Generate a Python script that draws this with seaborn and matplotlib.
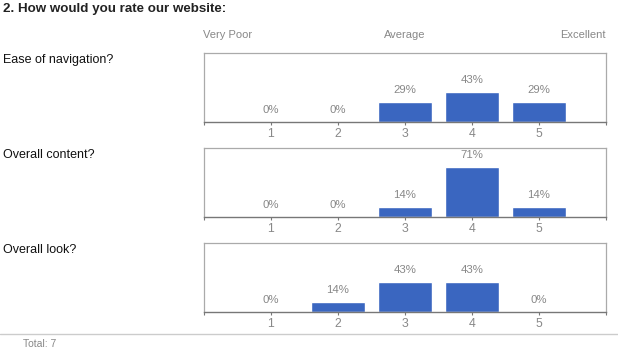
import matplotlib
matplotlib.use("Agg")
import matplotlib.pyplot as plt
import seaborn as sns
import pandas as pd

sns.set_theme(style="white")
plt.rcParams['font.family'] = ['Liberation Sans', 'DejaVu Sans']

title = "2. How would you rate our website:"
questions = ["Ease of navigation?", "Overall content?", "Overall look?"]
ratings = ["1", "2", "3", "4", "5"]
ease_values = [0, 0, 29, 43, 29]
content_values = [0, 0, 14, 71, 14]
look_values = [0, 14, 43, 43, 0]
scale_labels = ["Very Poor", "Average", "Excellent"]
total_text = "Total: 7"

series = [ease_values, content_values, look_values]

W, H = 618, 361
fig = plt.figure(figsize=(W / 100, H / 100), dpi=100)

bar_color = "#3a66c0"
gray_txt = "#888888"

panel_tops = [53, 148, 243]
panel_h = 69
left_px, right_px = 204, 606

fig.text(3 / W, 1 - 9 / H, title, fontsize=9.6, fontweight="bold",
         color="#222222", ha="left", va="center")

# scale labels
fig.text(203 / W, 1 - 35 / H, scale_labels[0], fontsize=8, color=gray_txt, ha="left", va="center")
fig.text(405 / W, 1 - 35 / H, scale_labels[1], fontsize=8, color=gray_txt, ha="center", va="center")
fig.text(606 / W, 1 - 35 / H, scale_labels[2], fontsize=8, color=gray_txt, ha="right", va="center")

for q, vals, top in zip(questions, series, panel_tops):
    ax = fig.add_axes([left_px / W, 1 - (top + panel_h) / H,
                       (right_px - left_px) / W, panel_h / H])
    df = pd.DataFrame({"rating": ratings, "pct": vals})
    sns.barplot(data=df, x="rating", y="pct", order=ratings, color=bar_color,
                saturation=1, width=0.8, ax=ax)
    ax.set_xlim(-1, 5)
    ax.set_ylim(0, 98)
    ax.set_xlabel("")
    ax.set_ylabel("")
    ax.set_yticks([])
    for cont in ax.containers:
        ax.bar_label(cont, labels=[f"{v}%" for v in vals], padding=5,
                     fontsize=8.2, color=gray_txt)
    for s in ["top", "left", "right"]:
        ax.spines[s].set_color("#aaaaaa")
        ax.spines[s].set_linewidth(0.9)
    ax.spines["bottom"].set_color("#777777")
    ax.spines["bottom"].set_linewidth(1.0)
    ax.tick_params(axis="x", which="major", length=2, width=0.8, color="#777777",
                   labelsize=8.8, labelcolor=gray_txt, pad=2, bottom=True)
    ax.set_xticks([-1, 5], minor=True)
    ax.tick_params(axis="x", which="minor", length=2, width=0.8, color="#777777", bottom=True)
    fig.text(3 / W, 1 - (top + 7) / H, q, fontsize=9, color="#111111",
             ha="left", va="center")

# separator line and total
fig.add_artist(plt.Line2D([0, 1], [1 - 334 / H, 1 - 334 / H], color="#cccccc", lw=1.0))
fig.text(23 / W, 1 - 344 / H, total_text, fontsize=7.5, color=gray_txt, ha="left", va="center")

fig.savefig("out.png", dpi=100, facecolor="white")
